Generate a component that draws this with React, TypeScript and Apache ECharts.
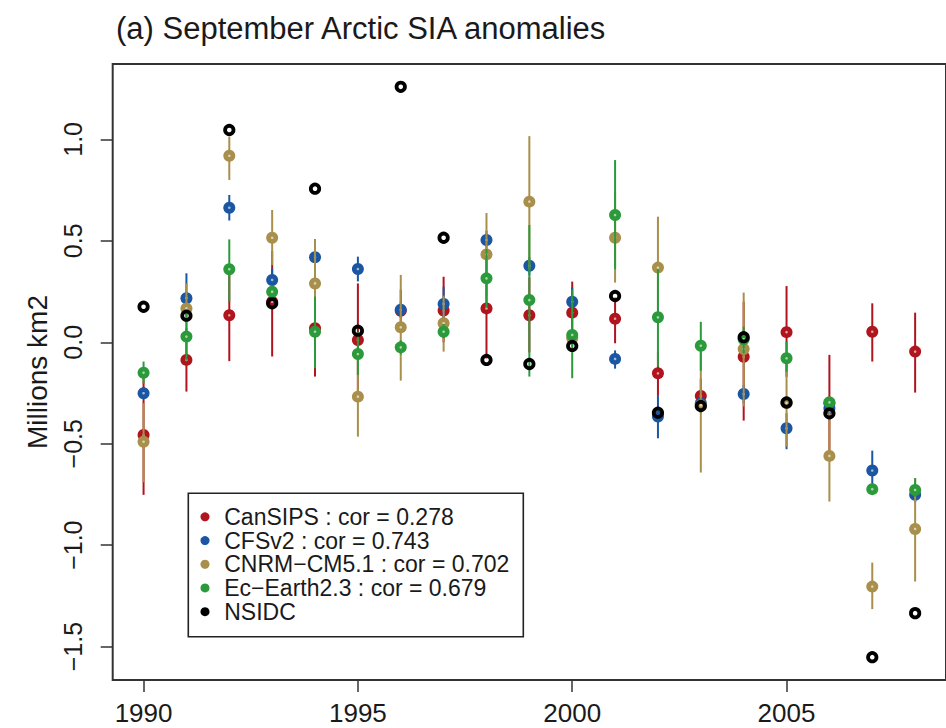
import React, { useEffect, useRef } from "react";
import * as echarts from "echarts";

// ---- data ----
const years = [1990, 1991, 1992, 1993, 1994, 1995, 1996, 1997, 1998, 1999, 2000, 2001, 2002, 2003, 2004, 2005, 2006, 2007, 2008];

const canVal = [-0.457, -0.087, 0.133, 0.2, 0.069, 0.011, 0.155, 0.156, 0.167, 0.133, 0.146, 0.116, -0.153, -0.265, -0.071, 0.05, -0.3, 0.052, -0.046];
const canLo = [-0.752, -0.243, -0.093, -0.07, -0.169, -0.27, 0.05, 0.0, -0.08, -0.05, 0.0, -0.005, -0.26, -0.35, -0.386, -0.17, -0.55, -0.095, -0.248];
const canHi = [-0.16, 0.07, 0.36, 0.45, 0.3, 0.29, 0.26, 0.323, 0.41, 0.32, 0.299, 0.22, -0.05, -0.18, 0.2, 0.277, -0.062, 0.192, 0.146];

const cfsVal = [-0.251, 0.217, 0.663, 0.307, 0.419, 0.361, 0.16, 0.189, 0.504, 0.377, 0.2, -0.082, -0.366, -0.3, -0.255, -0.424, -0.325, -0.632, -0.752];
const cfsLo = [-0.28, 0.13, 0.6, 0.25, 0.38, 0.3, 0.12, 0.12, 0.46, 0.33, 0.13, -0.13, -0.473, -0.33, -0.3, -0.527, -0.36, -0.73, -0.79];
const cfsHi = [-0.22, 0.34, 0.726, 0.364, 0.46, 0.422, 0.2, 0.274, 0.55, 0.42, 0.27, -0.04, -0.26, -0.27, -0.21, -0.35, -0.28, -0.534, -0.71];

const cnrmVal = [-0.49, 0.167, 0.919, 0.515, 0.29, -0.268, 0.074, 0.094, 0.433, 0.693, 0.02, 0.515, 0.368, -0.31, -0.033, -0.3, -0.56, -1.204, -0.92];
const cnrmLo = [-0.69, 0.04, 0.8, 0.38, 0.07, -0.465, -0.189, -0.046, 0.23, 0.36, -0.02, 0.294, 0.12, -0.642, -0.317, -0.514, -0.785, -1.315, -1.179];
const cnrmHi = [-0.3, 0.29, 1.013, 0.652, 0.509, -0.07, 0.332, 0.23, 0.637, 1.016, 0.06, 0.74, 0.619, 0.0, 0.245, -0.09, -0.33, -1.086, -0.67];

const ecVal = [-0.15, 0.028, 0.36, 0.249, 0.052, -0.058, -0.025, 0.052, 0.315, 0.208, 0.036, 0.627, 0.123, -0.017, 0.015, -0.079, -0.296, -0.724, -0.728];
const ecLo = [-0.205, -0.09, 0.2, 0.22, -0.128, -0.161, -0.06, 0.02, 0.17, -0.169, -0.177, 0.36, -0.12, -0.14, -0.054, -0.145, -0.31, -0.75, -0.76];
const ecHi = [-0.095, 0.145, 0.507, 0.28, 0.225, 0.05, 0.01, 0.09, 0.46, 0.578, 0.26, 0.898, 0.36, 0.101, 0.077, 0.003, -0.28, -0.7, -0.67];

const nsidc = [0.175, 0.131, 1.046, 0.192, 0.757, 0.057, 1.259, 0.515, -0.087, -0.107, -0.018, 0.228, -0.347, -0.314, 0.025, -0.297, -0.35, -1.552, -1.335];

const modelNames = ["CanSIPS", "CFSv2", "CNRM\u2212CM5.1", "Ec\u2212Earth2.3"];
const modelCors = ["0.278", "0.743", "0.702", "0.679"];
const modelColors = ["#b0141d", "#1b56a2", "#a88f4b", "#2a9a3b"];
const obsName = "NSIDC";
const xTicks = [1990, 1995, 2000, 2005];
const yTicks = [-1.5, -1.0, -0.5, 0.0, 0.5, 1.0];
const titleText = "(a) September Arctic SIA anomalies";
const yTitle = "Millions km2";

const FONT = "Liberation Sans, Arial, Helvetica, sans-serif";

export default function App() {
  const ref = useRef<HTMLDivElement>(null);
  useEffect(() => {
    if (!ref.current) return;
    const chart = echarts.init(ref.current, undefined, { renderer: "svg" });

    const models = [
      [canVal, canLo, canHi],
      [cfsVal, cfsLo, cfsHi],
      [cnrmVal, cnrmLo, cnrmHi],
      [ecVal, ecLo, ecHi],
    ];

    // R-style 4% axis padding
    const allY: number[] = [...nsidc];
    models.forEach((m) => { allY.push(...m[1], ...m[2]); });
    const yMinD = Math.min(...allY), yMaxD = Math.max(...allY);
    const yPad = 0.04 * (yMaxD - yMinD);
    const xPad = 0.04 * (years[years.length - 1] - years[0]);

    const series: any[] = models.map((m, i) => {
      const color = modelColors[i];
      return {
        type: "custom",
        name: modelNames[i],
        itemStyle: { color },
        encode: { x: 0, y: 1 },
        data: years.map((yr, k) => [yr, m[0][k], m[1][k], m[2][k]]),
        renderItem: (_p: any, api: any) => {
          const x = api.value(0);
          const p = api.coord([x, api.value(1)]);
          const lo = api.coord([x, api.value(2)]);
          const hi = api.coord([x, api.value(3)]);
          return {
            type: "group",
            children: [
              { type: "line", shape: { x1: lo[0], y1: lo[1], x2: hi[0], y2: hi[1] }, style: { stroke: color, lineWidth: 2 } },
              { type: "circle", shape: { cx: p[0], cy: p[1], r: 6 }, style: { fill: color } },
              { type: "circle", shape: { cx: p[0], cy: p[1], r: 1.3 }, style: { fill: "rgba(255,255,255,0.6)" } },
            ],
          };
        },
      };
    });
    series.push({
      type: "scatter",
      name: obsName,
      symbol: "circle",
      symbolSize: 8.4,
      itemStyle: { color: "rgba(0,0,0,0)", borderColor: "#000", borderWidth: 3.8, opacity: 1 },
      data: years.map((yr, k) => [yr, nsidc[k]]),
    });

    const corMap: Record<string, string> = {};
    modelNames.forEach((n, i) => { corMap[n] = n + " : cor = " + modelCors[i]; });

    chart.setOption({
      animation: false,
      backgroundColor: "#fff",
      textStyle: { fontFamily: FONT },
      title: {
        text: titleText,
        left: 116,
        top: 13,
        padding: 0,
        textStyle: { fontSize: 31, fontWeight: "normal", color: "#1a1a1a", fontFamily: FONT },
      },
      grid: {
        left: 112.7,
        top: 64,
        width: 840,
        height: 616,
        show: true,
        borderColor: "#333",
        borderWidth: 2,
        backgroundColor: "transparent",
      },
      xAxis: {
        type: "value",
        min: years[0] - xPad,
        max: years[years.length - 1] + xPad,
        axisLine: { show: false, onZero: false },
        splitLine: { show: false },
        axisTick: { show: true, length: 12, customValues: xTicks, lineStyle: { color: "#333", width: 1.5 } },
        axisLabel: { customValues: xTicks, margin: 22, fontSize: 26, lineHeight: 22, color: "#1a1a1a", fontFamily: FONT, formatter: (v: number) => String(v) },
      },
      yAxis: {
        type: "value",
        min: yMinD - yPad,
        max: yMaxD + yPad,
        name: yTitle,
        nameLocation: "middle",
        nameRotate: 90,
        nameGap: 61,
        nameTextStyle: { fontSize: 28, color: "#1a1a1a", fontFamily: FONT },
        axisLine: { show: false, onZero: false },
        splitLine: { show: false },
        axisTick: { show: true, length: 12, customValues: yTicks, lineStyle: { color: "#333", width: 1.5 } },
        axisLabel: {
          customValues: yTicks,
          rotate: 90,
          margin: 27,
          fontSize: 25,
          color: "#1a1a1a",
          fontFamily: FONT,
          formatter: (v: number) => v.toFixed(1).replace("-", "\u2212"),
        },
      },
      legend: {
        orient: "vertical",
        left: 200.5,
        top: 505,
        padding: 0,
        itemWidth: 28.5,
        itemHeight: 9,
        itemGap: 0,
        icon: "circle",
        selectedMode: false,
        data: [...modelNames, { name: obsName, itemStyle: { color: "#000", borderWidth: 0 } }],
        formatter: (n: string) => corMap[n] || n,
        textStyle: { fontSize: 23, lineHeight: 23.7, color: "#1a1a1a", fontFamily: FONT },
        z: 10,
      },
      graphic: [
        {
          type: "rect",
          z: 9,
          shape: { x: 188.3, y: 493.3, width: 335, height: 143.4 },
          style: { fill: "#fff", stroke: "#222", lineWidth: 1.6 },
        },
      ],
      series,
    });
    return () => chart.dispose();
  }, []);
  return <div ref={ref} style={{ position: "absolute", left: 0, top: 0, width: 946, height: 728 }} />;
}
